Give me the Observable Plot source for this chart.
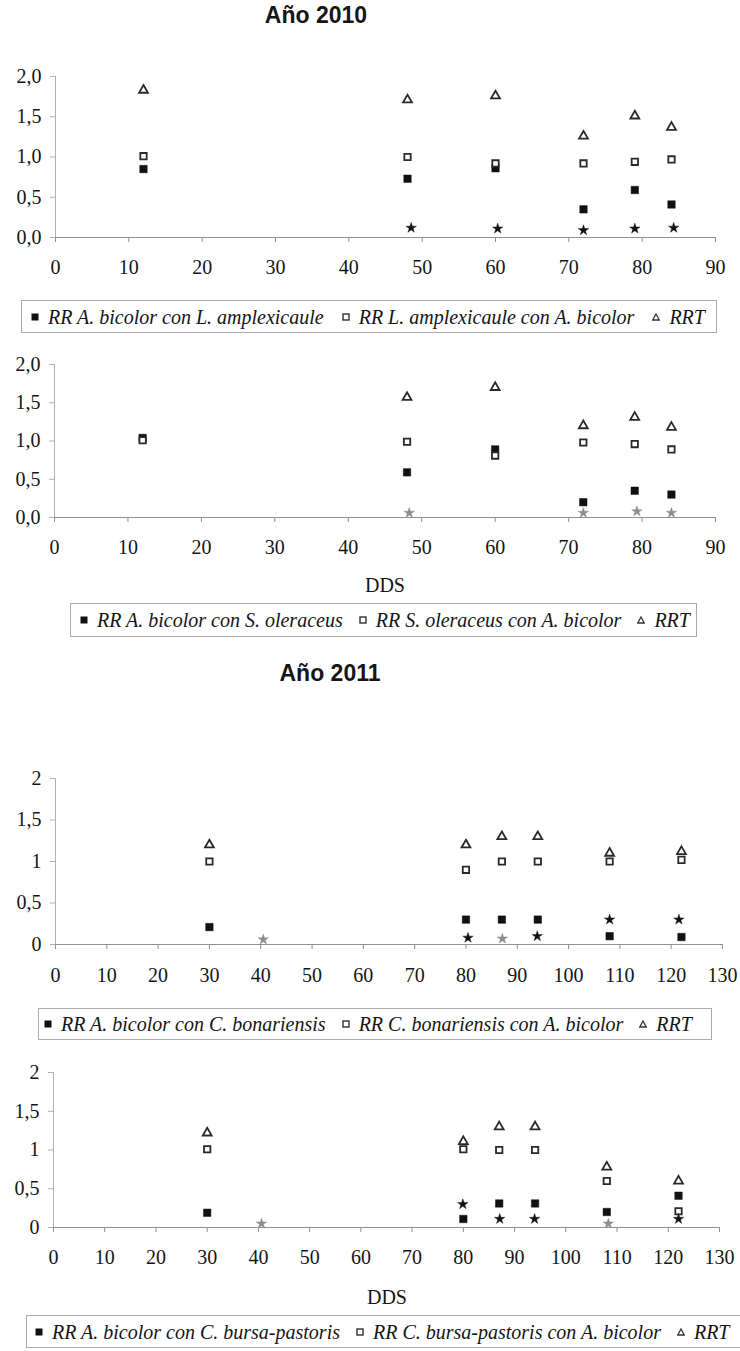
<!DOCTYPE html>
<html><head><meta charset="utf-8">
<script src="https://cdn.jsdelivr.net/npm/d3@7"></script>
<script src="https://cdn.jsdelivr.net/npm/@observablehq/plot@0.6"></script>
<style>
html,body{margin:0;padding:0;background:#fff;}
#page{position:relative;width:740px;height:1351px;overflow:hidden;background:#fff;}
.title{position:absolute;font:bold 23px/23px "Liberation Sans",Arial,sans-serif;color:#151515;text-align:center;white-space:nowrap;}
.axlab{position:absolute;font:20px/20px "Liberation Serif","Times New Roman",serif;color:#151515;text-align:center;white-space:nowrap;}
.legend{position:absolute;box-sizing:border-box;border:1px solid #aaa;display:flex;align-items:center;font:italic 20px/20px "Liberation Serif","Times New Roman",serif;color:#151515;white-space:nowrap;overflow:hidden;}
.legend .item{display:flex;align-items:center;}
.legend svg{margin-right:9px;flex:none;}
.chart{position:absolute;left:0;}
</style></head><body><div id="page"></div>
<script>
// ---------- data ----------
const titles = ["Año 2010", "Año 2011"];
const xLabel = "DDS";

const dds2010 = [12, 48, 60, 72, 79, 84];
const xTicks2010 = [0, 10, 20, 30, 40, 50, 60, 70, 80, 90];
const yTicks = [0, 0.5, 1, 1.5, 2];
const yTickLabels2010 = ["0,0", "0,5", "1,0", "1,5", "2,0"];
const yTickLabels2011 = ["0", "0,5", "1", "1,5", "2"];

// Panel 1: A. bicolor – L. amplexicaule
const rrAbiLam = [0.85, 0.73, 0.86, 0.35, 0.59, 0.41];
const rrLamAbi = [1.01, 1.00, 0.92, 0.92, 0.94, 0.97];
const rrtLam = [1.83, 1.71, 1.76, 1.26, 1.51, 1.37];
const starLamX = [48.5, 60.3, 72, 79, 84.3];
const starLamY = [0.12, 0.11, 0.09, 0.11, 0.12];
const starLamTone = ["negro", "negro", "negro", "negro", "negro"];
const legendLam = ["RR A. bicolor con L. amplexicaule", "RR L. amplexicaule con A. bicolor", "RRT"];

// Panel 2: A. bicolor – S. oleraceus
const rrAbiSon = [1.04, 0.59, 0.89, 0.20, 0.35, 0.30];
const rrSonAbi = [1.01, 0.99, 0.81, 0.98, 0.96, 0.89];
const rrtSon = [null, 1.57, 1.70, 1.20, 1.31, 1.18];
const starSonX = [48.3, 72, 79.3, 84];
const starSonY = [0.06, 0.06, 0.08, 0.06];
const starSonTone = ["gris", "gris", "gris", "gris"];
const legendSon = ["RR A. bicolor con S. oleraceus", "RR S. oleraceus con A. bicolor", "RRT"];

const dds2011 = [30, 80, 87, 94, 108, 122];
const xTicks2011 = [0, 10, 20, 30, 40, 50, 60, 70, 80, 90, 100, 110, 120, 130];

// Panel 3: A. bicolor – C. bonariensis
const rrAbiCbo = [0.21, 0.30, 0.30, 0.30, 0.10, 0.09];
const rrCboAbi = [1.00, 0.90, 1.00, 1.00, 1.00, 1.02];
const rrtCbo = [1.20, 1.20, 1.30, 1.30, 1.10, 1.12];
const starCboX = [40.5, 80.4, 87.1, 93.9, 108, 121.5];
const starCboY = [0.06, 0.08, 0.07, 0.10, 0.30, 0.30];
const starCboTone = ["gris", "negro", "gris", "negro", "negro", "negro"];
const legendCbo = ["RR A. bicolor con C. bonariensis", "RR C. bonariensis con A. bicolor", "RRT"];

// Panel 4: A. bicolor – C. bursa-pastoris
const rrAbiCbp = [0.19, 0.11, 0.31, 0.31, 0.20, 0.41];
const rrCbpAbi = [1.01, 1.01, 1.00, 1.00, 0.60, 0.21];
const rrtCbp = [1.22, 1.11, 1.30, 1.30, 0.78, 0.60];
const starCbpX = [40.6, 79.9, 87.1, 93.9, 108.3, 122];
const starCbpY = [0.05, 0.30, 0.11, 0.11, 0.05, 0.11];
const starCbpTone = ["gris", "negro", "negro", "negro", "gris", "negro"];
const legendCbp = ["RR A. bicolor con C. bursa-pastoris", "RR C. bursa-pastoris con A. bicolor", "RRT"];

// ---------- helpers ----------
const page = document.getElementById("page");
const serifFamily = '"Liberation Serif","Times New Roman",serif';

function addText(cls, text, left, top, width) {
  const d = document.createElement("div");
  d.className = cls;
  d.textContent = text;
  Object.assign(d.style, {left: left + "px", top: top + "px", width: width + "px"});
  page.appendChild(d);
}

function panel(c) {
  const rows = (ys) => c.x.map((x, i) => ({x, y: ys[i]})).filter(d => d.y != null);
  const stars = c.sx.map((x, i) => ({x, y: c.sy[i], tone: c.st[i]}));
  const fmt = (v) => c.ylab[c.yt.indexOf(v)];
  const svg = Plot.plot({
    width: 740, height: c.height,
    marginTop: c.mt, marginBottom: c.mb, marginLeft: c.ml, marginRight: c.mr,
    style: {background: "transparent", fontFamily: serifFamily, fontSize: "20px", color: "#151515", overflow: "visible"},
    x: {domain: [0, c.xmax], label: null},
    y: {domain: [0, 2], label: null},
    color: {domain: ["negro", "gris"], range: ["#111111", "#8c8c8c"]},
    marks: [
      Plot.ruleX([0], {stroke: "#b0b0b0", strokeWidth: 1}),
      Plot.ruleY([0], {stroke: "#909090", strokeWidth: 1.2}),
      Plot.axisX({ticks: c.xt, tickSize: 5, tickPadding: c.pad, stroke: "#909090", fill: "#151515", tickFormat: d => String(d), label: null}),
      Plot.axisY({ticks: c.yt, tickSize: 5, tickPadding: 9, stroke: "#b0b0b0", fill: "#151515", tickFormat: fmt, label: null}),
      Plot.dot(rows(c.filled), {x: "x", y: "y", symbol: "square", r: 4.2, fill: "#111", stroke: "#111", strokeWidth: 0.5}),
      Plot.dot(rows(c.open), {x: "x", y: "y", symbol: "square", r: 3.6, fill: "white", stroke: "#2a2a2a", strokeWidth: 1.8}),
      Plot.dot(rows(c.rrt), {x: "x", y: "y", symbol: "triangle", r: 3.3, fill: "white", stroke: "#2a2a2a", strokeWidth: 1.8}),
      Plot.dot(stars, {x: "x", y: "y", symbol: "star", r: 3.3, fill: "tone", stroke: "tone", strokeWidth: 0.4})
    ]
  });
  svg.classList.add("chart");
  svg.style.top = c.top + "px";
  svg.style.position = "absolute";
  page.appendChild(svg);
}

function marker(kind) {
  const ns = "http://www.w3.org/2000/svg";
  const s = document.createElementNS(ns, "svg");
  s.setAttribute("width", 8); s.setAttribute("height", 8);
  let el;
  if (kind === 0) { el = document.createElementNS(ns, "rect"); el.setAttribute("x", 0.5); el.setAttribute("y", 0.5); el.setAttribute("width", 7); el.setAttribute("height", 7); el.setAttribute("fill", "#111"); }
  else if (kind === 1) { el = document.createElementNS(ns, "rect"); el.setAttribute("x", 1); el.setAttribute("y", 1); el.setAttribute("width", 6); el.setAttribute("height", 6); el.setAttribute("fill", "white"); el.setAttribute("stroke", "#333"); el.setAttribute("stroke-width", 1.4); }
  else { el = document.createElementNS(ns, "path"); el.setAttribute("d", "M4,1L7.3,7H0.7Z"); el.setAttribute("fill", "white"); el.setAttribute("stroke", "#333"); el.setAttribute("stroke-width", 1.3); }
  s.appendChild(el);
  return s;
}

function legend(labels, c) {
  const d = document.createElement("div");
  d.className = "legend";
  Object.assign(d.style, {left: c.left + "px", top: c.top + "px", width: c.width + "px", height: c.height + "px", paddingLeft: c.pl + "px"});
  labels.forEach((lab, i) => {
    const it = document.createElement("span");
    it.className = "item";
    if (i > 0) it.style.marginLeft = c.gap + "px";
    it.appendChild(marker(i));
    const t = document.createElement("span");
    t.textContent = lab;
    it.appendChild(t);
    d.appendChild(it);
  });
  page.appendChild(d);
}

// ---------- layout ----------
addText("title", titles[0], 216, 4.3, 200);

panel({top: 60, height: 220, mt: 16, mb: 43, ml: 55, mr: 25, xmax: 90, xt: xTicks2010, yt: yTicks, ylab: yTickLabels2010, pad: 17,
  x: dds2010, filled: rrAbiLam, open: rrLamAbi, rrt: rrtLam, sx: starLamX, sy: starLamY, st: starLamTone});
legend(legendLam, {left: 21, top: 300, width: 696, height: 33, pl: 9, gap: 18});

panel({top: 350, height: 210, mt: 14, mb: 43, ml: 54, mr: 25, xmax: 90, xt: xTicks2010, yt: yTicks, ylab: yTickLabels2010, pad: 17,
  x: dds2010, filled: rrAbiSon, open: rrSonAbi, rrt: rrtSon, sx: starSonX, sy: starSonY, st: starSonTone});
addText("axlab", xLabel, 335, 574.5, 100);
legend(legendSon, {left: 70, top: 603, width: 627, height: 34, pl: 9, gap: 16});

addText("title", titles[1], 230, 662, 200);

panel({top: 760, height: 227, mt: 18, mb: 43, ml: 55, mr: 18, xmax: 130, xt: xTicks2011, yt: yTicks, ylab: yTickLabels2011, pad: 18,
  x: dds2011, filled: rrAbiCbo, open: rrCboAbi, rrt: rrtCbo, sx: starCboX, sy: starCboY, st: starCboTone});
legend(legendCbo, {left: 38, top: 1008, width: 674, height: 32, pl: 5, gap: 16});

panel({top: 1055, height: 215, mt: 17, mb: 43, ml: 53, mr: 21, xmax: 130, xt: xTicks2011, yt: yTicks, ylab: yTickLabels2011, pad: 17,
  x: dds2011, filled: rrAbiCbp, open: rrCbpAbi, rrt: rrtCbp, sx: starCbpX, sy: starCbpY, st: starCbpTone});
addText("axlab", xLabel, 337, 1286.5, 100);
legend(legendCbp, {left: 26, top: 1315, width: 740, height: 33, pl: 8, gap: 16});
</script>
</body></html>
